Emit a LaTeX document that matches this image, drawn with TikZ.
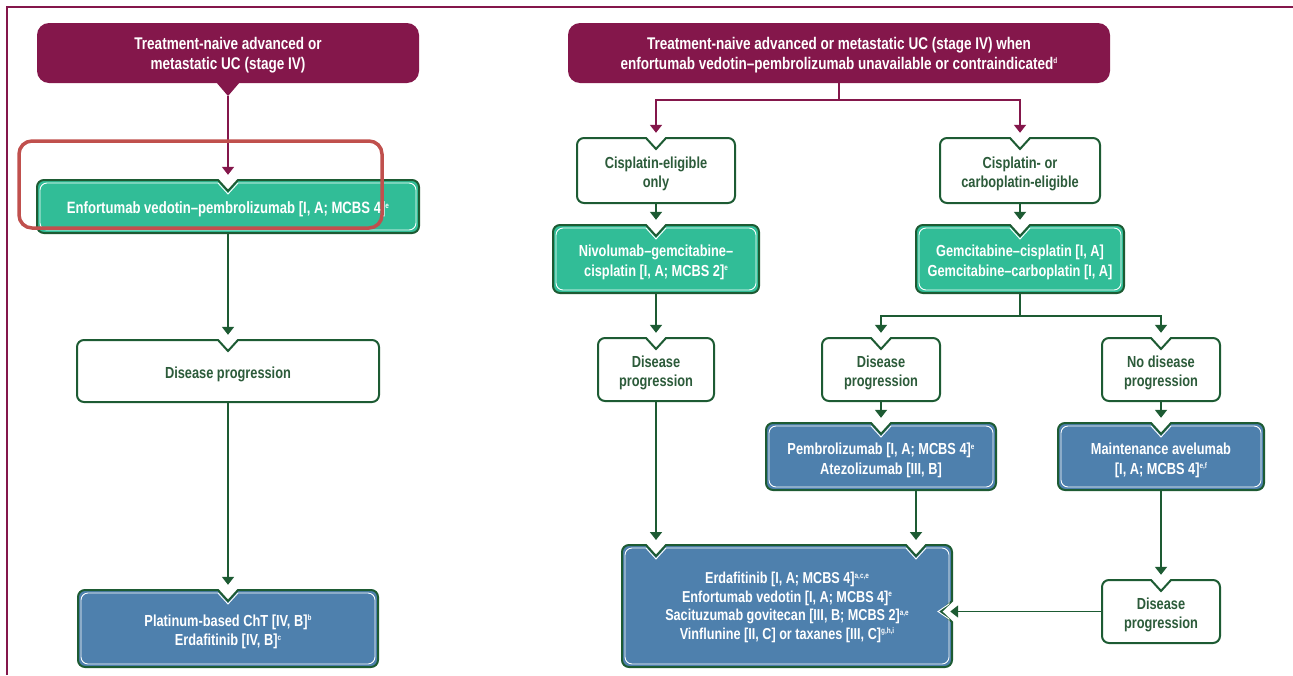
\documentclass[tikz,border=0pt]{standalone}
\usepackage{fontspec}
\setmainfont{Liberation Sans}[FakeStretch=0.8]
\usetikzlibrary{arrows.meta}
\definecolor{maroon}{HTML}{84174B}
\definecolor{dkgreen}{HTML}{1D5B33}
\definecolor{tealf}{HTML}{31BD97}
\definecolor{steel}{HTML}{4E80AD}
\definecolor{txtgreen}{HTML}{2C5B3A}
\definecolor{annot}{HTML}{C0504D}
% notched rounded box: style, x1, y1, x2, y2, notch x
\newcommand\nbox[6]{%
\path[#1] (#2,#3+7) arc[start angle=180,end angle=270,radius=7] -- (#6-10,#3) -- (#6,#3+11) -- (#6+10,#3) -- (#4-7,#3) arc[start angle=270,end angle=360,radius=7] -- (#4,#5-7) arc[start angle=0,end angle=90,radius=7] -- (#2+7,#5) arc[start angle=90,end angle=180,radius=7] -- cycle;}
\newcommand\cbox[6]{\nbox{#1}{#2}{#3}{#4}{#5}{#6}\nbox{innerline}{#2+3}{#3+3}{#4-3}{#5-3}{#6}}
% text block shifted down without changing its size
\newcommand\tx[2][3.5pt]{\raisebox{-#1}[\height][\depth]{\begin{tabular}{@{}c@{}}#2\end{tabular}}}
\newcommand\sps[1]{\raisebox{5.5pt}{\fontsize{8}{8}\selectfont #1}}
\tikzset{
  wbox/.style={fill=white, draw=dkgreen, line width=2pt},
  gbox/.style={fill=tealf, draw=dkgreen, line width=2pt},
  bbox/.style={fill=steel, draw=dkgreen, line width=2pt},
  innerline/.style={draw=white, line width=0.9pt},
  txt/.style={inner sep=0pt, font=\bfseries\fontsize{16}{19.5}\selectfont},
  wt/.style={txt, text=white},
  gt/.style={txt, text=txtgreen},
  ttl/.style={wt, font=\bfseries\fontsize{16.9}{20}\selectfont},
  ln/.style={dkgreen, line width=1.8pt},
  arr/.style={ln, -{Triangle[width=12pt,length=8pt]}, shorten >=5pt},
  mln/.style={maroon, line width=1.8pt},
  marr/.style={mln, -{Triangle[width=12pt,length=8pt]}, shorten >=5pt},
}
\begin{document}
\begin{tikzpicture}[x=1pt,y=-1pt]
\useasboundingbox (0,0) rectangle (1293,675);
% frame
\draw[maroon, line width=2.5pt] (7,675) -- (7,7) -- (1293,7);
% title boxes
\fill[maroon, rounded corners=12pt] (37,23) rectangle (419,83);
\fill[maroon] (216,82) -- (240,82) -- (228,96) -- cycle;
\fill[maroon, rounded corners=12pt] (568,23) rectangle (1110,83);
% left column boxes
\cbox{gbox}{37}{180}{419}{233}{228}
\nbox{wbox}{77}{340}{379}{402}{228}
\cbox{bbox}{78}{590}{378}{667}{228}
% right column boxes
\nbox{wbox}{577}{138}{735}{203}{656}
\cbox{gbox}{553}{225}{759}{293}{656}
\nbox{wbox}{598}{338}{714}{401}{656}
\nbox{wbox}{940}{138}{1100}{203}{1020}
\cbox{gbox}{916}{225}{1124}{293}{1020}
\nbox{wbox}{822}{338}{940}{401}{881}
\cbox{bbox}{766}{423}{996}{490}{881}
\nbox{wbox}{1102}{338}{1220}{401}{1161}
\cbox{bbox}{1058}{423}{1264}{490}{1161}
\nbox{wbox}{1102}{580}{1220}{643}{1161}
% big box with three notches
\path[bbox] (622,552) arc[start angle=180,end angle=270,radius=7] -- (646,545) -- (656,556) -- (666,545) -- (906,545) -- (916,556) -- (926,545) -- (945,545) arc[start angle=270,end angle=360,radius=7] -- (952,601) -- (941,611.5) -- (952,622) -- (952,660) arc[start angle=0,end angle=90,radius=7] -- (629,667) arc[start angle=90,end angle=180,radius=7] -- cycle;
\path[innerline] (625,555) arc[start angle=180,end angle=270,radius=7] -- (646,548) -- (656,559) -- (666,548) -- (906,548) -- (916,559) -- (926,548) -- (942,548) arc[start angle=270,end angle=360,radius=7] -- (949,604) -- (938,611.5) -- (949,619) -- (949,657) arc[start angle=0,end angle=90,radius=7] -- (632,664) arc[start angle=90,end angle=180,radius=7] -- cycle;
% nodes
\node[ttl, minimum width=382pt, minimum height=60pt] (t1) at (228,53) {\tx[2pt]{Treatment-naive advanced or\\metastatic UC (stage IV)}};
\coordinate (t1tip) at (228,96);
\node[wt, minimum width=382pt, minimum height=53pt, font=\bfseries\fontsize{16.4}{19.5}\selectfont] (e1) at (228,206.5) {\tx{Enfortumab vedotin–pembrolizumab [I, A; MCBS 4]\sps{e}}};
\node[gt, minimum width=302pt, minimum height=62pt] (d1) at (228,371) {\tx{Disease progression}};
\node[wt, minimum width=300pt, minimum height=77pt] (p1) at (228,628.5) {\tx{Platinum-based ChT [IV, B]\sps{b}\\Erdafitinib [IV, B]\sps{c}}};

\node[ttl, minimum width=542pt, minimum height=60pt] (t2) at (839,53) {\tx[2pt]{Treatment-naive advanced or metastatic UC (stage IV) when\\enfortumab vedotin–pembrolizumab unavailable or contraindicated\sps{d}}};
\coordinate (j1) at (839,100);
\node[gt, minimum width=158pt, minimum height=65pt] (c1) at (656,170.5) {\tx{Cisplatin-eligible\\only}};
\node[wt, minimum width=206pt, minimum height=68pt] (n1) at (656,259) {\tx{Nivolumab–gemcitabine–\\cisplatin [I, A; MCBS 2]\sps{e}}};
\node[gt, minimum width=116pt, minimum height=63pt] (d2) at (656,369.5) {\tx{Disease\\progression}};
\node[wt, minimum width=330pt, minimum height=122pt, font=\bfseries\fontsize{15.8}{18.5}\selectfont] (B) at (787,606) {\tx[2pt]{Erdafitinib [I, A; MCBS 4]\sps{a,c,e}\\Enfortumab vedotin [I, A; MCBS 4]\sps{e}\\Sacituzumab govitecan [III, B; MCBS 2]\sps{a,e}\\Vinflunine [II, C] or taxanes [III, C]\sps{g,h,i}}};
\coordinate (Bn1) at (656,545);
\coordinate (Bn2) at (916,545);
\node[gt, minimum width=160pt, minimum height=65pt] (c2) at (1020,170.5) {\tx{Cisplatin- or\\carboplatin-eligible}};
\node[wt, minimum width=208pt, minimum height=68pt] (g1) at (1020,259) {\tx{Gemcitabine–cisplatin [I, A]\\Gemcitabine–carboplatin [I, A]}};
\coordinate (j2) at (1020,316);
\node[gt, minimum width=118pt, minimum height=63pt] (d3) at (881,369.5) {\tx{Disease\\progression}};
\node[wt, minimum width=230pt, minimum height=67pt] (pm) at (881,456.5) {\tx[4pt]{Pembrolizumab [I, A; MCBS 4]\sps{e}\\Atezolizumab [III, B]}};
\node[gt, minimum width=118pt, minimum height=63pt] (d4) at (1161,369.5) {\tx{No disease\\progression}};
\node[wt, minimum width=206pt, minimum height=67pt] (mv) at (1161,456.5) {\tx[4pt]{Maintenance avelumab\\{[I, A; MCBS 4]}\sps{e,f}}};
\node[gt, minimum width=118pt, minimum height=63pt] (d5) at (1161,611.5) {\tx{Disease\\progression}};
% connectors
\draw[marr] (t1tip) -- (e1.north);
\draw[arr] (e1.south) -- (d1.north);
\draw[arr] (d1.south) -- (p1.north);
\draw[mln] (t2.south) -- (j1);
\draw[marr] (j1) -| (c1.north);
\draw[marr] (j1) -| (c2.north);
\draw[arr] (c1.south) -- (n1.north);
\draw[arr] (n1.south) -- (d2.north);
\draw[arr] (d2.south) -- (Bn1);
\draw[arr] (c2.south) -- (g1.north);
\draw[ln] (g1.south) -- (j2);
\draw[arr] (j2) -| (d3.north);
\draw[arr] (j2) -| (d4.north);
\draw[arr] (d3.south) -- (pm.north);
\draw[arr] (pm.south -| Bn2) -- (Bn2);
\draw[arr] (d4.south) -- (mv.north);
\draw[arr] (mv.south) -- (d5.north);
\draw[arr, shorten >=-2pt] (d5.west) -- (d5.west -| B.east);
% annotation
\draw[annot, line width=3.5pt, rounded corners=13pt] (19,141) rectangle (382,228);
\end{tikzpicture}
\end{document}
